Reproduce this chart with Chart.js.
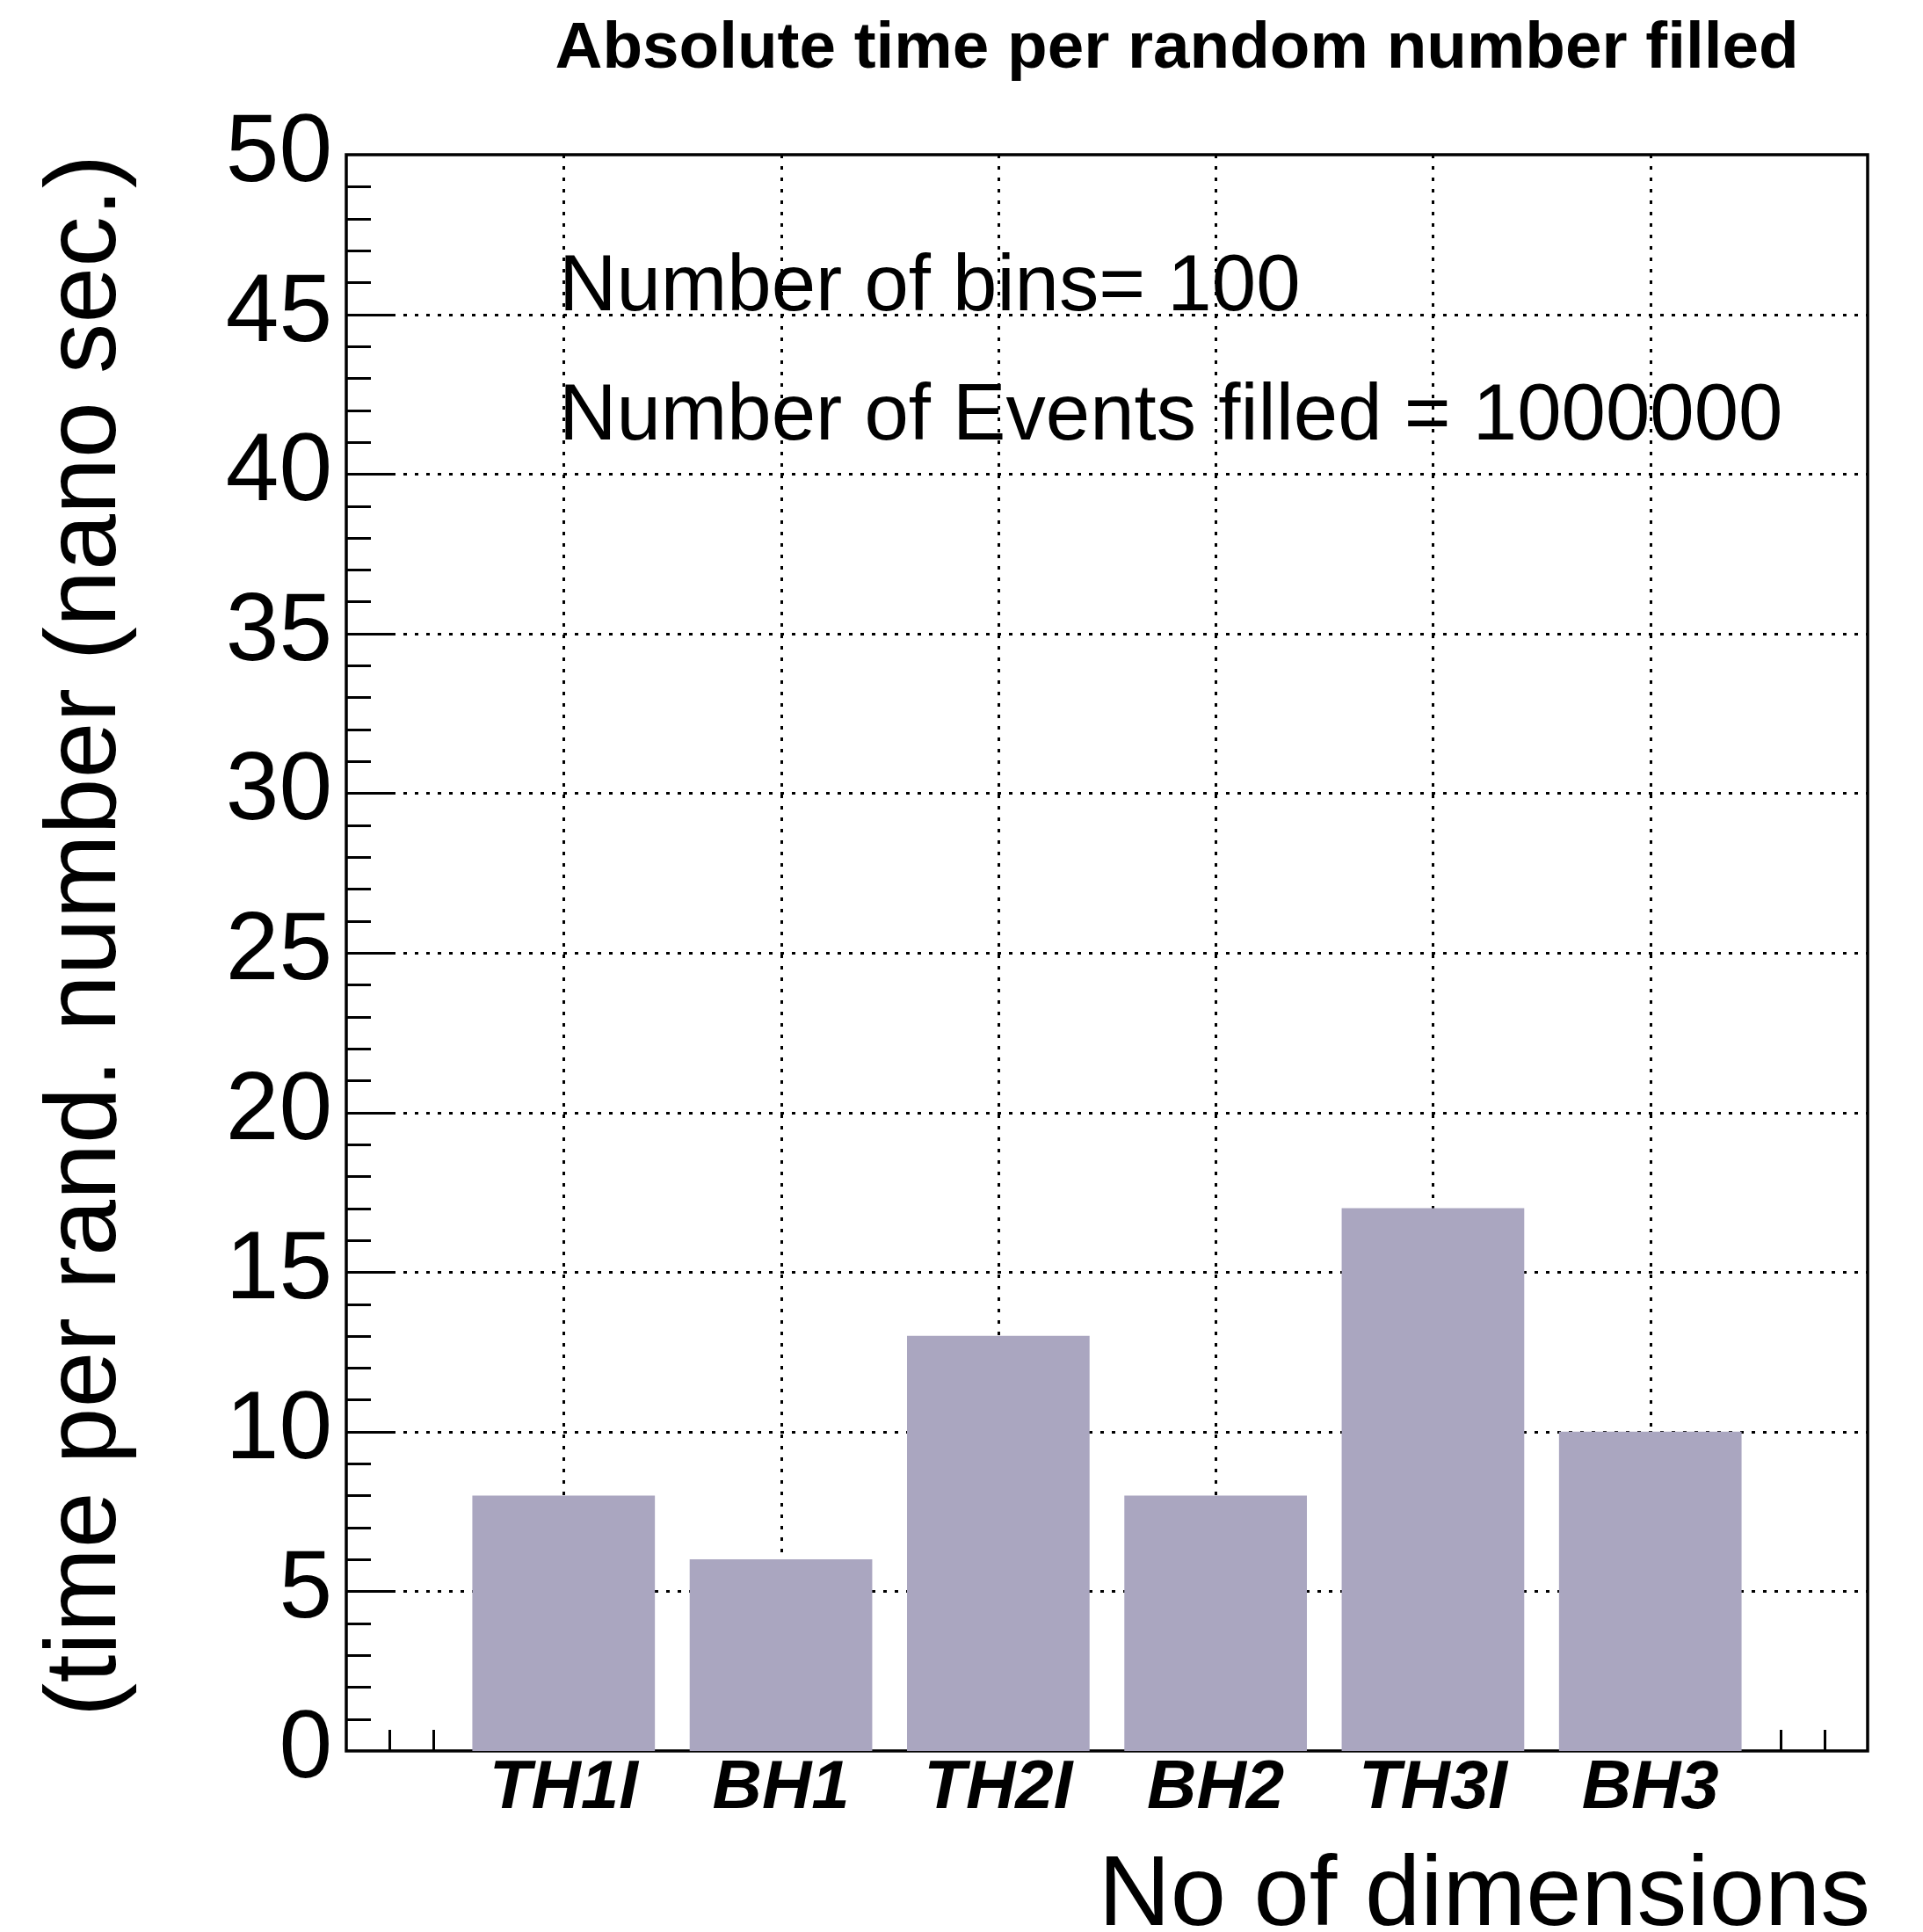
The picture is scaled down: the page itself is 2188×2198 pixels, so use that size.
<!DOCTYPE html>
<html><head><meta charset="utf-8">
<script src="https://cdn.jsdelivr.net/npm/chart.js@4"></script>
<style>html,body{margin:0;padding:0;background:#fff}#wrap{width:2188px;height:2198px}</style>
</head><body><div id="wrap"><canvas id="c" width="2188" height="2198"></canvas></div>
<script>
// ---- data ----
const categories = ['TH1I', 'BH1', 'TH2I', 'BH2', 'TH3I', 'BH3'];
const times = [8, 6, 13, 8, 17, 10];
const yMin = 0, yMax = 50, yStep = 5;
const xMin = 0, xMax = 7;
const titleText = 'Absolute time per random number filled';
const notes = ['Number of bins= 100', 'Number of Events filled = 1000000'];
const xTitle = 'No of dimensions';
const yTitle = '(time per rand. number (nano sec.)';

const FONT = '"Liberation Sans", Arial, Helvetica, sans-serif';
const points = categories.map((c, i) => ({ x: i + 1, y: times[i] }));

const framePlugin = {
  id: 'frame',
  beforeDatasetsDraw(chart) {
    const { ctx, chartArea: a, scales: { x, y } } = chart;
    ctx.save();
    // dotted grid
    ctx.strokeStyle = '#000';
    ctx.lineWidth = 3;
    ctx.setLineDash([4, 9]);
    for (let v = yMin + yStep; v < yMax; v += yStep) {
      const py = Math.round(y.getPixelForValue(v)) + 0.5;
      ctx.beginPath(); ctx.moveTo(a.left, py); ctx.lineTo(a.right, py); ctx.stroke();
    }
    for (let i = 1; i <= categories.length; i++) {
      const px = Math.round(x.getPixelForValue(i)) + 0.5;
      ctx.beginPath(); ctx.moveTo(px, a.top); ctx.lineTo(px, a.bottom); ctx.stroke();
    }
    ctx.setLineDash([]);
    // y ticks
    for (let v = yMin + 1; v < yMax; v += 1) {
      const py = Math.round(y.getPixelForValue(v)) + 0.5;
      const len = (v % yStep === 0) ? 56 : 28;
      ctx.beginPath(); ctx.moveTo(a.left, py); ctx.lineTo(a.left + len, py); ctx.stroke();
    }
    // x ticks
    for (let k = 1; k < (xMax - xMin) * 5; k++) {
      const v = xMin + k * 0.2;
      const px = Math.round(x.getPixelForValue(v)) + 0.5;
      const len = (k % 5 === 0) ? 48 : 24;
      ctx.beginPath(); ctx.moveTo(px, a.bottom); ctx.lineTo(px, a.bottom - len); ctx.stroke();
    }
    // frame
    ctx.lineWidth = 3.5;
    ctx.strokeRect(a.left, a.top, a.right - a.left, a.bottom - a.top);
    ctx.restore();
  },
  afterDraw(chart) {
    const { ctx, chartArea: a } = chart;
    ctx.save();
    ctx.fillStyle = '#000';
    ctx.textBaseline = 'alphabetic';
    // title
    ctx.font = 'bold 74.7px ' + FONT;
    ctx.textAlign = 'center';
    ctx.fillText(titleText, 1339, 77);
    // notes
    ctx.font = '90.6px ' + FONT;
    ctx.textAlign = 'left';
    ctx.fillText(notes[0], 636, 353);
    ctx.fillText(notes[1], 636, 500);
    // x title
    ctx.font = '113.7px ' + FONT;
    ctx.textAlign = 'right';
    ctx.fillText(xTitle, a.right + 3, 2190);
    // y title
    ctx.font = '115px ' + FONT;
    ctx.translate(131, a.top);
    ctx.rotate(-Math.PI / 2);
    ctx.textAlign = 'right';
    ctx.fillText(yTitle, 0, 0);
    ctx.restore();
  }
};

new Chart(document.getElementById('c'), {
  type: 'bar',
  data: {
    datasets: [{
      data: points,
      backgroundColor: 'rgb(170,166,192)',
      borderWidth: 0,
      barPercentage: 0.84,
      categoryPercentage: 1.0
    }]
  },
  options: {
    responsive: false,
    animation: false,
    devicePixelRatio: 1,
    layout: { padding: { top: 176, right: 63, left: 0, bottom: 0 } },
    plugins: { legend: { display: false }, tooltip: { enabled: false }, title: { display: false } },
    scales: {
      x: {
        type: 'linear',
        min: xMin, max: xMax,
        offset: false,
        grid: { display: false, offset: false },
        border: { display: false },
        ticks: {
          stepSize: 1,
          autoSkip: false,
          maxRotation: 0,
          padding: -11,
          color: '#000',
          font: { family: FONT, size: 78, style: 'italic', weight: 'bold' },
          callback: (v) => categories[v - 1] || ''
        },
        afterFit: (s) => { s.height = 206; }
      },
      y: {
        min: yMin, max: yMax,
        grid: { display: false },
        border: { display: false },
        ticks: {
          stepSize: yStep,
          padding: 8,
          color: '#000',
          font: { family: FONT, size: 109 }
        },
        afterFit: (s) => { s.width = 394; }
      }
    }
  },
  plugins: [framePlugin]
});
</script>
</body></html>
